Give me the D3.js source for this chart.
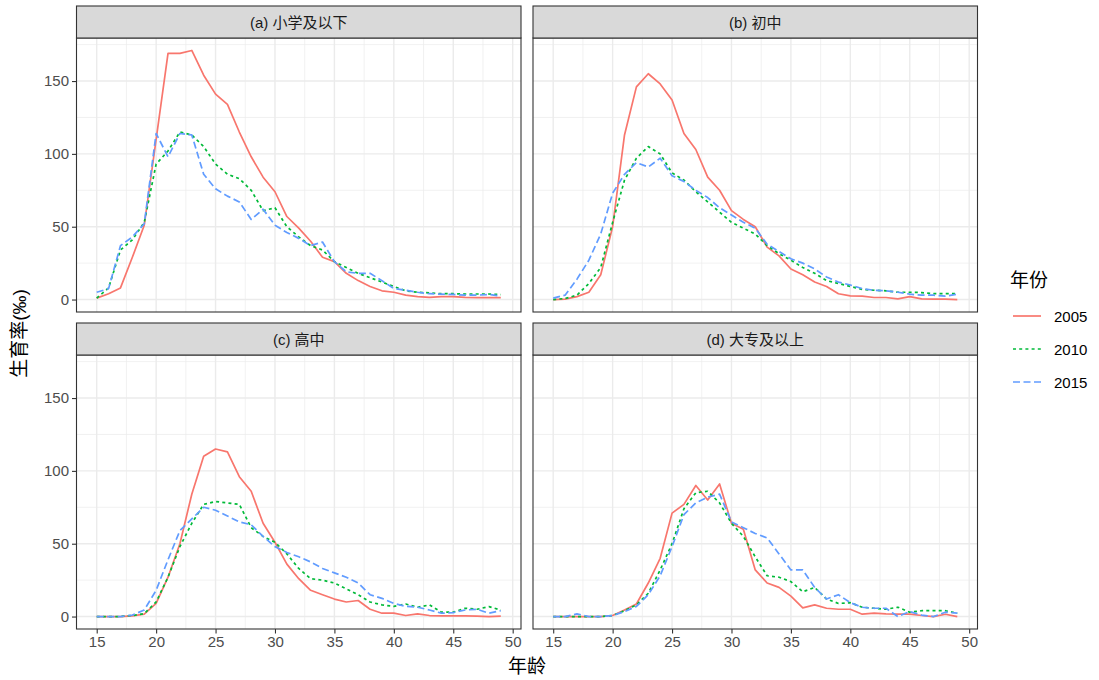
<!DOCTYPE html>
<html><head><meta charset="utf-8">
<script src="https://cdn.jsdelivr.net/npm/d3@7"></script>
<style>
body{margin:0;background:#fff;}
svg{display:block;font-family:"Liberation Sans","Noto Sans CJK SC",sans-serif;}
</style></head><body>
<svg id="chart" width="1099" height="680"></svg>
<script>
const ages = d3.range(15, 50);
const years = ["2005", "2010", "2015"];
const panelTitles = ["(a) 小学及以下", "(b) 初中", "(c) 高中", "(d) 大专及以上"];
const xTicks = [15, 20, 25, 30, 35, 40, 45, 50];
const yTicks = [0, 50, 100, 150];

const a2005 = [1,4,8,29,51,110,169,169,171,154,141,134,115,98,84,74,57,49,40,29,26,18,13,9,6,5,3,2,1.5,2,2,1.5,1.3,1.3,1.3];
const a2010 = [1,8,34,41,53,93,102,115,113,105,93,86,83,75,61,63,50,43,37,34,26,22,18,15,12,9,6,5,4.6,4,4,3.8,3.8,3.8,3.4];
const a2015 = [5,7.5,37,43,52,114,98,114,113,86,76,71,67,55,62,51,46,42,37,39.5,26,19,18,18,13,7.5,6.4,5,4,3.7,3.5,3,3,3.5,2.3];

const b2005 = [0,0.3,2,5,17,50,113,146,155,148,137,114,103,84,75,61,55,50,36,30,21,17,12,9,4,2.5,2.3,1.4,1.4,0.5,2,0.5,0.3,0.3,0];
const b2010 = [0,0.7,3,11,22,53,82,97,105,100,87,82,74,67,60,53,49,45,37,31.5,27,22,18,13,11,9,7,6.4,6,5,5,4.8,4,4,4];
const b2015 = [1,3,14,27,45,73,86,94,91,97,85,81,75,70,63,58,53,49,38,33,28,25,21,15.5,12,10,7.5,6.4,6,5,3.7,3,3,2.3,3.7];

const c2005 = [0,0,0,0.5,1.6,9,27,50,84,110,115,113,96,86,64,51,36,26,18,15,12,10,11,5,2.3,2.3,0.7,1.8,0.7,0.5,0.5,0.5,0.3,0,0.3];
const c2010 = [0,0,0,0.7,2,10,27,48,64,77,79,78,77,61,55,51,43,33,26,25,23,19,15,10,8,7,8.6,6.4,8,3,3,5.7,5,6.8,4.5];
const c2015 = [0,0,0,1,4.5,18,39,59,67,75,73,69,65,63,55,48,44,41,37.5,33,30,27,23,15,12.5,9,7,6.4,4.5,2.3,2.7,4.5,5,2.3,4];

const d2005 = [0,0,0,0,0,0.7,4.5,8.6,23,40,71,77,90,80,91,64,60,32,23,20,14,6,8,5.7,5,5,1.6,2.3,1.8,1.6,1.6,0.7,0,1.6,0];
const d2010 = [0,0,0,0,0,0.7,4,8,16,32,50,74,85,86,78,64,55,41,28,27,24,17,20,12,9,9.5,6.4,5.7,5,6.4,3,4,4,4,2.3];
const d2015 = [0,0,1.8,0,0,0.7,3.4,7,15,28,48,70,78,82,84,65,61,57,54,43,32,32,20,12,15,9.5,6.4,5.7,5.7,0,3.4,1,0,3,2.3];

const panelSeries = [[a2005,a2010,a2015],[b2005,b2010,b2015],[c2005,c2010,c2015],[d2005,d2010,d2015]];
const colors = ["#F8766D", "#00BA38", "#619CFF"];
const dashes = [null, "3,3.2", "7,3.5"];

const svg = d3.select("#chart");
const colX = [76.5, 533];
const panelW = 444.5;
const rowStrip = [6, 323];
const stripH = 32;
const panelH = 274;

// shared scales (ggplot fixed scales with 5% expansion)
const xMin = d3.min(ages), xMax = d3.max(ages);
const xPad = (xMax - xMin) * 0.05;
const allVals = panelSeries.flat(2);
const yMin = d3.min(allVals), yMax = d3.max(allVals);
const yPad = (yMax - yMin) * 0.05;

panelSeries.forEach((series, i) => {
  const col = i % 2, row = Math.floor(i / 2);
  const x0 = colX[col];
  const sTop = rowStrip[row];
  const pTop = sTop + stripH;
  const x = d3.scaleLinear().domain([xMin - xPad, xMax + xPad]).range([x0, x0 + panelW]);
  const y = d3.scaleLinear().domain([yMin - yPad, yMax + yPad]).range([pTop + panelH, pTop]);
  const g = svg.append("g");
  // background
  g.append("rect").attr("x", x0).attr("y", pTop).attr("width", panelW).attr("height", panelH).attr("fill", "#fff");
  // minor grid
  const xMinor = d3.range(12.5, 55, 5).filter(v => v > x.domain()[0] && v < x.domain()[1]);
  const yMinor = d3.range(-25, 200, 50).filter(v => v > y.domain()[0] && v < y.domain()[1]);
  g.selectAll(null).data(xMinor).enter().append("line")
    .attr("x1", d => x(d)).attr("x2", d => x(d)).attr("y1", pTop).attr("y2", pTop + panelH)
    .attr("stroke", "#EBEBEB").attr("stroke-width", 0.7);
  g.selectAll(null).data(yMinor).enter().append("line")
    .attr("y1", d => y(d)).attr("y2", d => y(d)).attr("x1", x0).attr("x2", x0 + panelW)
    .attr("stroke", "#EBEBEB").attr("stroke-width", 0.7);
  // major grid
  g.selectAll(null).data(xTicks).enter().append("line")
    .attr("x1", d => x(d)).attr("x2", d => x(d)).attr("y1", pTop).attr("y2", pTop + panelH)
    .attr("stroke", "#EBEBEB").attr("stroke-width", 1.4);
  g.selectAll(null).data(yTicks).enter().append("line")
    .attr("y1", d => y(d)).attr("y2", d => y(d)).attr("x1", x0).attr("x2", x0 + panelW)
    .attr("stroke", "#EBEBEB").attr("stroke-width", 1.4);
  // lines
  const line = d3.line().x((d, k) => x(ages[k])).y(d => y(d));
  series.forEach((vals, s) => {
    g.append("path").datum(vals).attr("d", line)
      .attr("fill", "none").attr("stroke", colors[s]).attr("stroke-width", 1.7)
      .attr("stroke-dasharray", dashes[s]).attr("stroke-linejoin", "round");
  });
  // border
  g.append("rect").attr("x", x0).attr("y", pTop).attr("width", panelW).attr("height", panelH)
    .attr("fill", "none").attr("stroke", "#333333").attr("stroke-width", 1.1);
  // strip
  g.append("rect").attr("x", x0).attr("y", sTop).attr("width", panelW).attr("height", stripH)
    .attr("fill", "#D9D9D9").attr("stroke", "#333333").attr("stroke-width", 1.1);
  g.append("text").attr("x", x0 + panelW / 2).attr("y", sTop + stripH / 2)
    .attr("text-anchor", "middle").attr("dominant-baseline", "central")
    .attr("font-size", 15).attr("fill", "#1A1A1A").text(panelTitles[i]);
  // axes
  if (col === 0) {
    const ax = g.append("g").attr("transform", `translate(${x0},0)`)
      .call(d3.axisLeft(y).tickValues(yTicks).tickSize(4.5).tickPadding(3));
    ax.select(".domain").remove();
    ax.selectAll(".tick line").attr("stroke", "#333333").attr("stroke-width", 1.1);
    ax.selectAll(".tick text").attr("font-size", 15).attr("fill", "#4D4D4D").attr("font-family", null);
  }
  if (row === 1) {
    const ax = g.append("g").attr("transform", `translate(0,${pTop + panelH})`)
      .call(d3.axisBottom(x).tickValues(xTicks).tickSize(4.5).tickPadding(3));
    ax.select(".domain").remove();
    ax.selectAll(".tick line").attr("stroke", "#333333").attr("stroke-width", 1.1);
    ax.selectAll(".tick text").attr("font-size", 15).attr("fill", "#4D4D4D").attr("font-family", null);
  }
});

// axis titles
svg.append("text").attr("x", (colX[0] + colX[1] + panelW) / 2).attr("y", 666)
  .attr("text-anchor", "middle").attr("dominant-baseline", "central")
  .attr("font-size", 19).attr("fill", "#000").text("年龄");
svg.append("text").attr("transform", `translate(19,${(rowStrip[0] + stripH + rowStrip[1] + stripH + panelH) / 2}) rotate(-90)`)
  .attr("text-anchor", "middle").attr("dominant-baseline", "central")
  .attr("font-size", 19).attr("fill", "#000").text("生育率(‰)");

// legend
const lg = svg.append("g");
lg.append("text").attr("x", 1010).attr("y", 280).attr("dominant-baseline", "central")
  .attr("font-size", 19).attr("fill", "#000").text("年份");
years.forEach((yr, s) => {
  const cy = 316 + s * 33;
  lg.append("line").attr("x1", 1013).attr("x2", 1041).attr("y1", cy).attr("y2", cy)
    .attr("stroke", colors[s]).attr("stroke-width", 1.7).attr("stroke-dasharray", dashes[s]);
  lg.append("text").attr("x", 1054).attr("y", cy).attr("dominant-baseline", "central")
    .attr("font-size", 15).attr("fill", "#000").text(yr);
});
</script>
</body></html>
